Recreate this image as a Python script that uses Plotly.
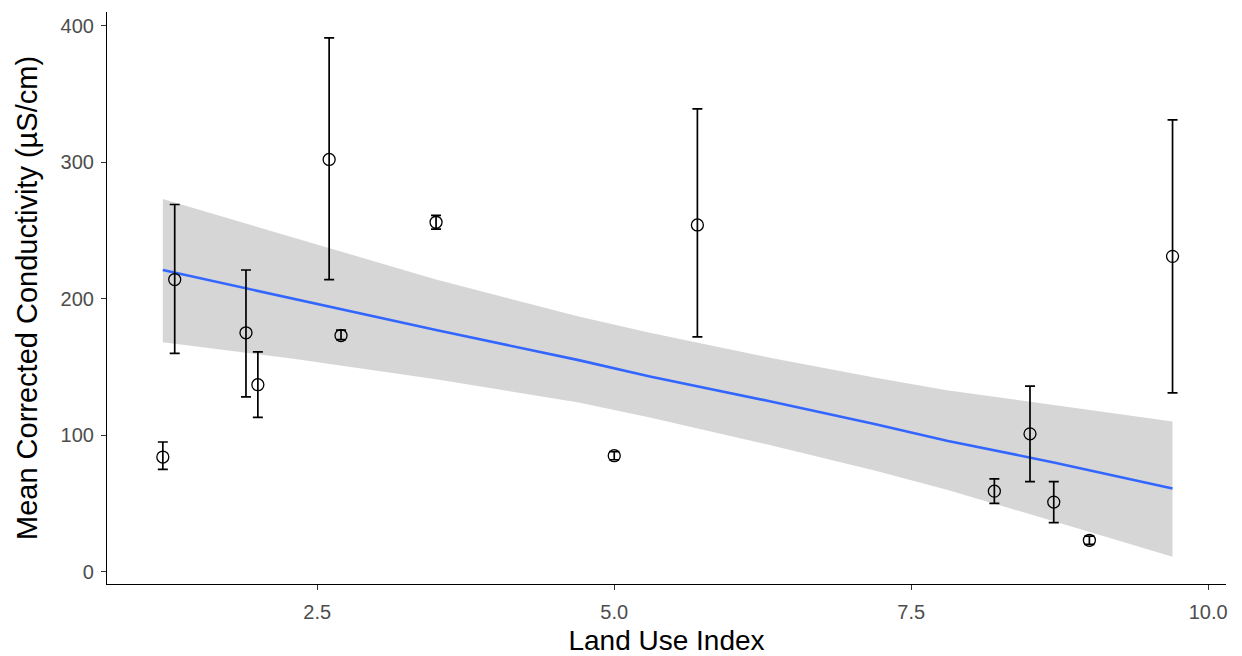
import plotly.graph_objects as go

# Site means with error bar limits
land_use = [1.2, 1.3, 1.9, 2.0, 2.6, 2.7, 3.5, 5.0, 5.7, 8.2, 8.5, 8.7, 9.0, 9.7]
conductivity = [84, 214, 175, 137, 302, 173, 256, 85, 254, 59, 101, 51, 23, 231]
err_low = [75, 160, 128, 113, 214, 170, 251, 82, 172, 50, 66, 36, 20, 131]
err_high = [95, 269, 221, 161, 391, 177, 261, 88, 339, 68, 136, 66, 26, 331]

# Linear smooth and its confidence band
fit_x = [1.2, 2.3, 3.5, 4.7, 5.3, 6.3, 7.2, 7.8, 8.7, 9.7]
fit_y = [221, 200, 177, 155, 143, 125, 108, 96, 80, 61]
band_low = [168, 156, 141, 124, 113, 93, 74, 60, 37, 11]
band_high = [273, 245, 214, 187, 175, 157, 142, 133, 122, 110]

x_ticks = [2.5, 5.0, 7.5, 10.0]
x_ticklabels = ["2.5", "5.0", "7.5", "10.0"]
y_ticks = [0, 100, 200, 300, 400]

FONT = "Liberation Sans, Arial, sans-serif"

fig = go.Figure()

fig.add_trace(go.Scatter(x=fit_x, y=band_low, mode="lines", line=dict(width=0),
                         hoverinfo="skip", showlegend=False))
fig.add_trace(go.Scatter(x=fit_x, y=band_high, mode="lines", line=dict(width=0),
                         fill="tonexty", fillcolor="rgba(153,153,153,0.4)",
                         hoverinfo="skip", showlegend=False))
fig.add_trace(go.Scatter(x=fit_x, y=fit_y, mode="lines",
                         line=dict(color="#3366FF", width=2.6), showlegend=False))

plus = [h - y for h, y in zip(err_high, conductivity)]
minus = [y - l for l, y in zip(err_low, conductivity)]
fig.add_trace(go.Scatter(
    x=land_use, y=conductivity, mode="markers",
    marker=dict(symbol="circle-open", size=12, color="black", line=dict(width=1.3)),
    error_y=dict(type="data", symmetric=False, array=plus, arrayminus=minus,
                 color="black", thickness=1.7, width=5),
    showlegend=False))

axis_common = dict(showline=True, linecolor="black", linewidth=1.2,
                   ticks="outside", ticklen=5, tickwidth=1.2, tickcolor="#333333",
                   showgrid=False, zeroline=False, automargin=False,
                   tickfont=dict(family=FONT, size=20, color="#4D4D4D"))

fig.update_xaxes(range=[0.73, 10.15], tickvals=x_ticks, ticktext=x_ticklabels,
                 ticklabelstandoff=5,
                 title=dict(text="Land Use Index", font=dict(family=FONT, size=28, color="black"),
                            standoff=11),
                 **axis_common)
fig.update_yaxes(range=[-9, 410], tickvals=y_ticks, ticklabelstandoff=3,
                 title=dict(text="Mean Corrected Conductivity (µS/cm)",
                            font=dict(family=FONT, size=29, color="black"), standoff=14),
                 **axis_common)

fig.update_layout(width=1242, height=656, plot_bgcolor="white", paper_bgcolor="white",
                  margin=dict(l=107, r=16, t=12, b=72), showlegend=False)

fig.write_html("out.html")
